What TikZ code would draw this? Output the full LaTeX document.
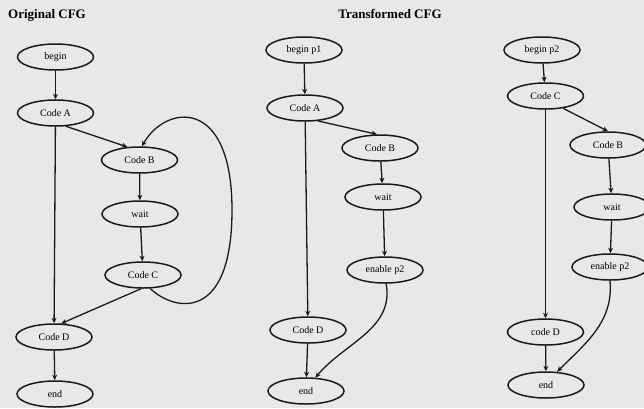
\documentclass[tikz,border=0pt]{standalone}
\usepackage{fontspec}
\setmainfont{Liberation Serif}
\usetikzlibrary{arrows.meta, shapes.geometric}
\definecolor{paper}{HTML}{E8E8E8}
\definecolor{ink}{HTML}{1A1A1A}

\begin{document}
\begin{tikzpicture}[x=1pt, y=-1pt,
  blk/.style={ellipse, draw=ink, line width=1.5pt, minimum width=76pt,
              minimum height=26pt, inner sep=0pt, font=\fontsize{10}{11}\selectfont},
  edge/.style={draw=ink, line width=1.3pt, -{Stealth[length=5.5pt, width=5pt]}},
  ttl/.style={font=\fontsize{13}{14}\selectfont\bfseries, inner sep=0pt},
]
\fill[paper] (0,0) rectangle (644,408);
\useasboundingbox (0,0) rectangle (644,408);
% ---- original CFG (left)
\node[ttl, anchor=west] (o_title) at (8,15) {Original CFG};
\node[blk] (o_begin) at (55.5,57) {begin};
\node[blk] (o_codeA) at (55.5,113) {Code A};
\node[blk] (o_codeB) at (139.5,160) {Code B};
\node[blk] (o_wait) at (140,214) {wait};
\node[blk] (o_codeC) at (143,275) {Code C};
\node[blk] (o_codeD) at (54,337) {Code D};
\node[blk] (o_end) at (55,394) {end};
\draw[edge] (o_begin) -- (o_codeA);
\draw[edge] (o_codeA.-52) -- (o_codeB.133);
\draw[edge] (o_codeA) -- (o_codeD);
\draw[edge] (o_codeB) -- (o_wait);
\draw[edge] (o_wait) -- (o_codeC);
\draw[edge] (o_codeC.-98) -- (o_codeD.62);
\draw[edge] (o_codeC.-62) .. controls (175,312) and (232,322) .. (232,210)
  .. controls (232,95) and (165,105) .. (o_codeB.80);
\draw[edge] (o_codeD) -- (o_end);
% ---- transformed CFG, process p1 (middle)
\node[ttl] (t_title) at (390,14) {Transformed CFG};
\node[blk] (p1_begin) at (304,50) {begin p1};
\node[blk] (p1_codeA) at (305,108) {Code A};
\node[blk] (p1_codeB) at (380,148) {Code B};
\node[blk] (p1_wait) at (383,197) {wait};
\node[blk] (p1_enable) at (385,270) {enable p2};
\node[blk] (p1_codeD) at (308,330) {Code D};
\node[blk] (p1_end) at (306,391) {end};
\draw[edge] (p1_begin) -- (p1_codeA);
\draw[edge] (p1_codeA.-45) -- (p1_codeB.102);
\draw[edge] (p1_codeA) -- (p1_codeD);
\draw[edge] (p1_codeB) -- (p1_wait);
\draw[edge] (p1_wait) -- (p1_enable);
\draw[edge] (p1_enable.-85) to[out=-80, in=50] (p1_end.55);
\draw[edge] (p1_codeD) -- (p1_end);
% ---- transformed CFG, process p2 (right)
\node[blk] (p2_begin) at (542,50) {begin p2};
\node[blk] (p2_codeC) at (545.5,96) {Code C};
\node[blk] (p2_codeB) at (608,145) {Code B};
\node[blk] (p2_wait) at (612,207) {wait};
\node[blk] (p2_enable) at (610,267) {enable p2};
\node[blk] (p2_codeD) at (545.5,332) {code D};
\node[blk] (p2_end) at (546,385) {end};
\draw[edge] (p2_begin) -- (p2_codeC);
\draw[edge] (p2_codeC.-35) -- (p2_codeB.90);
\draw[edge] (p2_codeC) -- (p2_codeD);
\draw[edge] (p2_codeB) -- (p2_wait);
\draw[edge] (p2_wait) -- (p2_enable);
\draw[edge] (p2_enable.-90) to[out=-85, in=45] (p2_end.50);
\draw[edge] (p2_codeD) -- (p2_end);
\end{tikzpicture}
\end{document}
